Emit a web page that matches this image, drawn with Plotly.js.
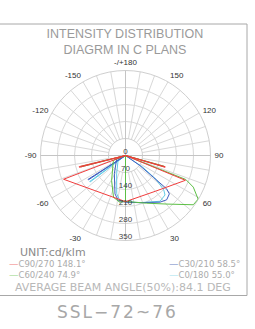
<!DOCTYPE html>
<html>
<head>
<meta charset="utf-8">
<script src="https://cdn.plot.ly/plotly-3.0.1.min.js"></script>
<style>html,body{margin:0;padding:0;background:#fff;}#chart{width:255px;height:329px;}</style>
</head>
<body>
<div id="chart"></div>
<script>
// ---- data (theta in degrees, 0 = downward, r in cd/klm) ----
const c90Theta = [-80, -76.5, -75.6, -80, -69, -42, 0, 40, 67.5, 70, 73.4, 74.2, 80];
const c90R     = [0, 196, 196, 0, 273, 193, 190, 192, 267, 0, 170, 170, 0];

const c60Theta = [0, 0, 24, 40.5, 54, 59, 65, 68.3, 70, 73.8, 74.5, 70, -76.3, -75.7, -70, -68, -29, -16, -7, 0];
const c60R     = [0, 189, 215, 263, 345, 349, 308, 267, 0, 166, 166, 0, 190, 190, 0, 54, 118, 179, 194, 189];

const c30Theta = [60, 55, 52, 51, 48.8, 42.9, 36.5, 17, 0, -9, -15.3, -31.5, -69, -60, -57.5, -56.7, -60];
const c30R     = [0, 72, 145, 218, 240, 249, 239, 203, 192, 188, 164, 88, 39, 0, 183, 183, 0];

const c0Theta  = [60, 56, 52, 48, 45, 37, 17, 0, -7, -12.9, -25.7, -65, -58, -54, -53.2, -58];
const c0R      = [0, 85, 160, 212, 230, 236, 203, 191, 187, 162, 84, 33, 0, 182, 182, 0];

const seriesNames  = ["C90/270", "C60/240", "C30/210", "C0/180"];
const beamAngles   = ["148.1°", "74.9°", "58.5°", "55.0°"];
const seriesColors = ["#f03c3c", "#5cbf45", "#3f5fc0", "#62cbe6"];
const legendColors = ["#f07a7a", "#94d67f", "#6b7fc4", "#a6e2ee"];

const radTickVals = [0, 70, 140, 210, 280, 350];
const radTickText = ["0", "70", "140", "210", "280", "350"];

const angTickVals = [0,10,20,30,40,50,60,70,80,90,100,110,120,130,140,150,160,170,
                     180,190,200,210,220,230,240,250,260,270,280,290,300,310,320,330,340,350];
const angTickText = ["","","","30","","","60","","","90","","","120","","","150","","",
                     "-/+180","","","-150","","","-120","","","-90","","","-60","","","-30","",""];
const crossTickVals = [0, 90, 180, 270];

// ---- traces ----
const thetas = [c90Theta, c60Theta, c30Theta, c0Theta];
const rs = [c90R, c60R, c30R, c0R];
const traces = [{
  type: "scatterpolar", subplot: "polar", r: [], theta: [], mode: "lines",
  showlegend: false, hoverinfo: "skip"
}];
// draw order: cyan, blue, green, red on top
[3, 2, 1, 0].forEach(i => {
  traces.push({
    type: "scatterpolar", subplot: "polar2",
    theta: thetas[i], r: rs[i], mode: "lines", name: seriesNames[i],
    line: {color: seriesColors[i], width: 1},
    showlegend: false, cliponaxis: false
  });
});
traces.push({
  type: "scatterpolar", subplot: "polar2", mode: "text",
  theta: radTickVals.map(() => 0), r: radTickVals, text: radTickText,
  textposition: "top center",
  textfont: {family: "Liberation Sans, Arial, sans-serif", size: 8, color: "#444"},
  showlegend: false, hoverinfo: "skip", cliponaxis: false
});

const W = 255, H = 329;
const px = x => x / W, py = y => 1 - y / H;
const dom = {x: [px(40.5), px(210.5)], y: [py(240.5), py(70.5)]};

const legendText = i =>
  `<span style="font-size:9.5px;color:${legendColors[i]}">—</span>${seriesNames[i]} ${beamAngles[i]}`;

const legendFont = {family: "DejaVu Sans, sans-serif", size: 8.5, color: "#ababab"};

const layout = {
  width: W, height: H,
  margin: {l: 0, r: 0, t: 0, b: 0},
  paper_bgcolor: "#fff",
  showlegend: false,
  title: {
    text: "INTENSITY DISTRIBUTION<br>DIAGRM IN C PLANS",
    x: 0.49, xanchor: "center", xref: "paper",
    y: py(38.2), yref: "container", yanchor: "top",
    font: {family: "Liberation Sans, Arial, sans-serif", size: 12.5, color: "#9a9a9a"}
  },
  polar: {
    domain: dom, bgcolor: "#fff", hole: 0.2,
    radialaxis: {range: [69.9, 350], tickvals: [70, 140, 210, 280, 350], showticklabels: false,
                 ticks: "", showline: false, gridcolor: "#d8d8d8", gridwidth: 1},
    angularaxis: {rotation: -90, direction: "counterclockwise", tickvals: angTickVals,
                  ticktext: angTickText, ticks: "outside", ticklen: 2, tickcolor: "rgba(0,0,0,0)",
                  showline: true, linecolor: "#cfcfcf",
                  gridcolor: "#d8d8d8", gridwidth: 1,
                  tickfont: {family: "Liberation Sans, Arial, sans-serif", size: 8, color: "#333"}}
  },
  polar2: {
    domain: dom, bgcolor: "rgba(0,0,0,0)",
    radialaxis: {range: [0, 350], showgrid: false, showline: false, showticklabels: false, ticks: ""},
    angularaxis: {rotation: -90, direction: "counterclockwise", tickvals: crossTickVals,
                  showticklabels: false, ticks: "", showline: false, gridcolor: "#c4c4c4", gridwidth: 1}
  },
  shapes: [{
    type: "rect", xref: "paper", yref: "paper",
    x0: px(-2), x1: px(247), y0: py(295.5), y1: py(24),
    line: {color: "#a8a8a8", width: 1}, fillcolor: "rgba(0,0,0,0)", layer: "below"
  }],
  annotations: [
    {text: "UNIT:cd/klm", x: px(18), y: py(252), xref: "paper", yref: "paper",
     xanchor: "left", yanchor: "middle", showarrow: false,
     font: {family: "DejaVu Sans, sans-serif", size: 11, color: "#8a8a8a"}},
    {text: legendText(0), x: px(7), y: py(263), xref: "paper", yref: "paper",
     xanchor: "left", yanchor: "middle", showarrow: false, font: legendFont},
    {text: legendText(1), x: px(7), y: py(274), xref: "paper", yref: "paper",
     xanchor: "left", yanchor: "middle", showarrow: false, font: legendFont},
    {text: legendText(2), x: px(167), y: py(263), xref: "paper", yref: "paper",
     xanchor: "left", yanchor: "middle", showarrow: false, font: legendFont},
    {text: legendText(3), x: px(167), y: py(274), xref: "paper", yref: "paper",
     xanchor: "left", yanchor: "middle", showarrow: false, font: legendFont},
    {text: "AVERAGE BEAM ANGLE(50%):84.1 DEG", x: px(123), y: py(287.5), xref: "paper", yref: "paper",
     xanchor: "center", yanchor: "middle", showarrow: false,
     font: {family: "DejaVu Sans, sans-serif", size: 11, color: "#b8b8b8"}},
    {text: '<span style="letter-spacing:2px">SSL−72~76</span>', x: px(117), y: py(312), xref: "paper", yref: "paper",
     xanchor: "center", yanchor: "middle", showarrow: false,
     font: {family: "DejaVu Sans, sans-serif", size: 17, color: "#a8a8a8"}}
  ]
};

Plotly.newPlot("chart", traces, layout, {staticPlot: true, displayModeBar: false});
</script>
</body>
</html>
